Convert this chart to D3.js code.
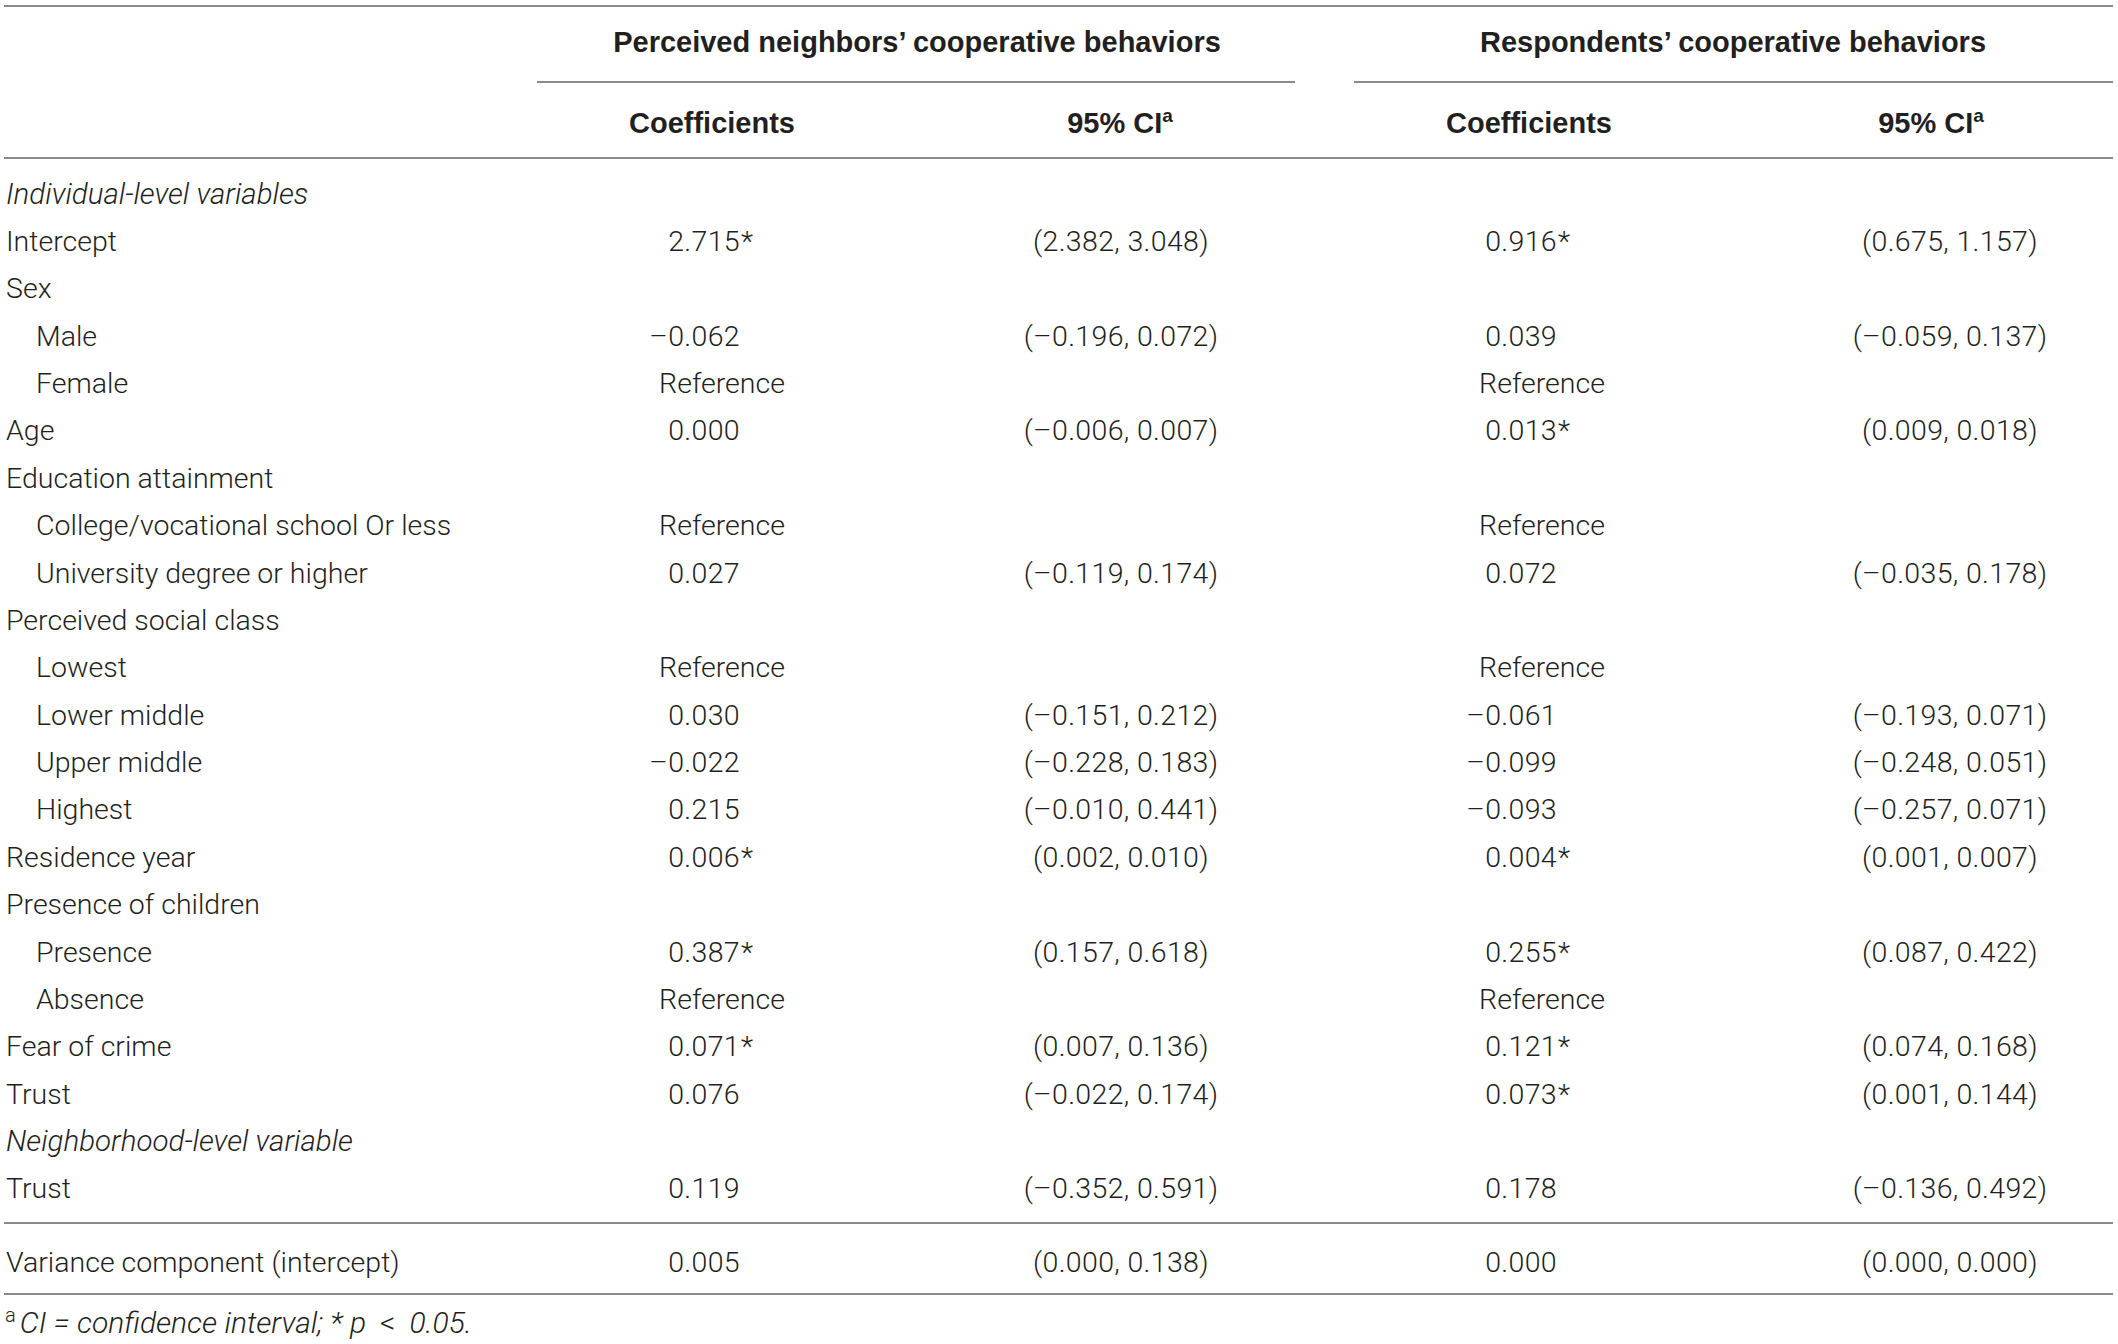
<!DOCTYPE html>
<html>
<head>
<meta charset="utf-8">
<script src="https://cdn.jsdelivr.net/npm/d3@7/dist/d3.min.js"></script>
<style>
  html, body { margin: 0; padding: 0; background: #ffffff; }
  svg { display: block; }
</style>
</head>
<body>
<svg id="chart" width="2118" height="1344"></svg>
<script>
// ---------- data ----------
const groupHeaders = ["Perceived neighbors\u2019 cooperative behaviors", "Respondents\u2019 cooperative behaviors"];
const subHeaders = ["Coefficients", "95% CI", "Coefficients", "95% CI"];

const rowLabels = [
  "Individual-level variables", "Intercept", "Sex", "Male", "Female", "Age",
  "Education attainment", "College/vocational school Or less", "University degree or higher",
  "Perceived social class", "Lowest", "Lower middle", "Upper middle", "Highest",
  "Residence year", "Presence of children", "Presence", "Absence",
  "Fear of crime", "Trust", "Neighborhood-level variable", "Trust",
  "Variance component (intercept)"
];
// 0 = top level, 1 = sub level, 2 = section heading (italic)
const rowLevels = [2,0,0,1,1,0,0,1,1,0,1,1,1,1,0,0,1,1,0,0,2,0,0];

const neighborCoef = ["", "2.715*", "", "\u20130.062", "Reference", "0.000", "", "Reference", "0.027",
  "", "Reference", "0.030", "\u20130.022", "0.215", "0.006*", "", "0.387*", "Reference",
  "0.071*", "0.076", "", "0.119", "0.005"];
const neighborCI = ["", "(2.382, 3.048)", "", "(\u20130.196, 0.072)", "", "(\u20130.006, 0.007)", "", "", "(\u20130.119, 0.174)",
  "", "", "(\u20130.151, 0.212)", "(\u20130.228, 0.183)", "(\u20130.010, 0.441)", "(0.002, 0.010)", "", "(0.157, 0.618)", "",
  "(0.007, 0.136)", "(\u20130.022, 0.174)", "", "(\u20130.352, 0.591)", "(0.000, 0.138)"];
const respondentCoef = ["", "0.916*", "", "0.039", "Reference", "0.013*", "", "Reference", "0.072",
  "", "Reference", "\u20130.061", "\u20130.099", "\u20130.093", "0.004*", "", "0.255*", "Reference",
  "0.121*", "0.073*", "", "0.178", "0.000"];
const respondentCI = ["", "(0.675, 1.157)", "", "(\u20130.059, 0.137)", "", "(0.009, 0.018)", "", "", "(\u20130.035, 0.178)",
  "", "", "(\u20130.193, 0.071)", "(\u20130.248, 0.051)", "(\u20130.257, 0.071)", "(0.001, 0.007)", "", "(0.087, 0.422)", "",
  "(0.074, 0.168)", "(0.001, 0.144)", "", "(\u20130.136, 0.492)", "(0.000, 0.000)"];
const footnoteParts = ["CI = confidence interval; * p", "<", "0.05."];

// ---------- layout ----------
const svg = d3.select("#chart");
const textColor = "#231f20";
const lineColor = "#8a8a8a";
const bodyFont = "Roboto, 'Liberation Sans', sans-serif";
const headFont = "'Liberation Sans', Arial, sans-serif";
const fs = 28.5;
const numSpacing = 0.35;

const nBody = rowLabels.length - 1; // rows above variance line
const y = d3.scaleLinear().domain([0, nBody - 1]).range([203.5, 203.5 + 47.38 * (nBody - 1)]);
const yVariance = 1271.5;

const labelX = d3.scaleOrdinal().domain([0, 1, 2]).range([6, 36, 6]);
// column anchor positions
const colX = { coefNumEnd: [740, 1557], refCenter: [722, 1542], ciCenter: [1121, 1950] };

// lines
const hline = (x1, x2, yy) => svg.append("line")
  .attr("x1", x1).attr("x2", x2).attr("y1", yy).attr("y2", yy)
  .attr("stroke", lineColor).attr("stroke-width", 2);
hline(4, 2113, 6);
hline(537, 1295, 82);
hline(1354, 2113, 82);
hline(4, 2113, 158);
hline(4, 2113, 1223);
hline(4, 2113, 1294);

// group headers
const groupX = [917, 1733];
svg.selectAll("text.group").data(groupHeaders).join("text")
  .attr("class", "group")
  .attr("x", (d, i) => groupX[i]).attr("y", 52)
  .attr("text-anchor", "middle")
  .attr("font-family", headFont).attr("font-weight", 700).attr("font-size", 29)
  .attr("fill", textColor).text(d => d);

// sub headers
const subX = [712, 1120, 1529, 1931];
const sub = svg.selectAll("text.sub").data(subHeaders).join("text")
  .attr("class", "sub")
  .attr("x", (d, i) => subX[i]).attr("y", 133)
  .attr("text-anchor", "middle")
  .attr("font-family", headFont).attr("font-weight", 700).attr("font-size", 29)
  .attr("fill", textColor);
sub.append("tspan").text(d => d);
sub.filter(d => d.startsWith("95")).append("tspan")
  .attr("dy", -11).attr("font-size", 19).text("a");

// row labels
const rowY = i => (i < nBody ? y(i) : yVariance);
svg.selectAll("text.label").data(rowLabels).join("text")
  .attr("class", "label")
  .attr("x", (d, i) => labelX(rowLevels[i])).attr("y", (d, i) => rowY(i))
  .attr("font-family", bodyFont).attr("font-weight", 300)
  .attr("font-size", (d, i) => rowLevels[i] === 2 ? 29.5 : fs)
  .attr("font-style", (d, i) => rowLevels[i] === 2 ? "italic" : "normal")
  .attr("fill", textColor).text(d => d);

// coefficient columns
function drawCoef(values, k) {
  const g = svg.append("g");
  values.forEach((v, i) => {
    if (!v) return;
    if (v === "Reference") {
      g.append("text").attr("x", colX.refCenter[k]).attr("y", rowY(i))
        .attr("text-anchor", "middle")
        .attr("font-family", bodyFont).attr("font-weight", 300).attr("font-size", fs)
        .attr("fill", textColor).text(v);
    } else {
      const star = v.endsWith("*");
      const num = star ? v.slice(0, -1) : v;
      g.append("text").attr("x", colX.coefNumEnd[k]).attr("y", rowY(i))
        .attr("text-anchor", "end").attr("letter-spacing", numSpacing)
        .attr("font-family", bodyFont).attr("font-weight", 300).attr("font-size", fs)
        .attr("fill", textColor).text(num);
      if (star) {
        g.append("text").attr("x", colX.coefNumEnd[k] + 1).attr("y", rowY(i))
          .attr("font-family", bodyFont).attr("font-weight", 300).attr("font-size", fs)
          .attr("fill", textColor).text("*");
      }
    }
  });
}
function drawCI(values, k) {
  svg.append("g").selectAll("text").data(values).join("text")
    .attr("x", colX.ciCenter[k]).attr("y", (d, i) => rowY(i))
    .attr("text-anchor", "middle").attr("letter-spacing", numSpacing)
    .attr("font-family", bodyFont).attr("font-weight", 300).attr("font-size", fs)
    .attr("fill", textColor).text(d => d);
}
drawCoef(neighborCoef, 0);
drawCI(neighborCI, 0);
drawCoef(respondentCoef, 1);
drawCI(respondentCI, 1);

// footnote
const fn = svg.append("text").attr("x", 5).attr("y", 1333)
  .attr("font-family", bodyFont).attr("font-weight", 300).attr("font-size", 30)
  .attr("font-style", "italic").attr("fill", textColor);
fn.append("tspan").attr("dy", -11).attr("font-size", 20).attr("font-style", "normal").text("a");
fn.append("tspan").attr("dy", 11).attr("dx", 4).text(footnoteParts[0]);
fn.append("tspan").attr("dx", 14).attr("font-style", "normal").text(footnoteParts[1]);
fn.append("tspan").attr("dx", 14).text(footnoteParts[2]);
</script>
</body>
</html>
